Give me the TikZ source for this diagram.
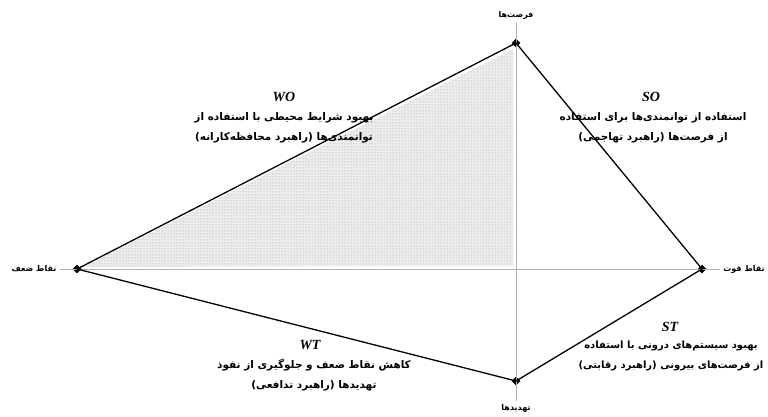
\documentclass[tikz,border=0pt]{standalone}
\usepackage{fontspec}
\usetikzlibrary{shapes,arrows,calc,patterns}
\TeXXeTstate=1
\newfontfamily\fafont[Script=Arabic]{DejaVu Sans}
\newfontfamily\enfont{Liberation Serif}

\begin{document}
\begin{tikzpicture}[x=1pt,y=-1pt,
	corner/.style={diamond,fill=black,inner sep=0pt,minimum size=9pt},
	axislabel/.style={font=\fafont\bfseries\fontsize{8}{9}\selectfont,inner sep=3pt},
	axisline/.style={gray!60,line width=0.6pt},
	side/.style={line width=1.3pt,black},
	tag/.style={font=\enfont\bfseries\itshape\fontsize{14}{14}\selectfont,inner sep=1pt},
	quarter/.style={align=center,font=\fafont\bfseries\fontsize{10.5}{20}\selectfont,inner sep=1pt}]
\useasboundingbox (0,0) rectangle (768,417);

% corners of the diagram
\coordinate (mid) at (516,269);
\node[corner] (opp) at (516,43) {};
\node[corner] (weak) at (77,269) {};
\node[corner] (str) at (702,269) {};
\node[corner] (thr) at (516,381) {};

% axis labels
\node[axislabel] (opplbl) at (516,15) {\beginR فرصت^^^^200cها\endR};
\node[axislabel] (thrlbl) at (516,408) {\beginR تهدیدها\endR};
\node[axislabel] (weaklbl) at (34,269) {\beginR نقاط ضعف\endR};
\node[axislabel] (strlbl) at (744,269) {\beginR نقاط قوت\endR};

% shaded quarter
\fill[preaction={fill=gray!14},pattern=dots,pattern color=gray!80]
	($(weak)+(6,-2)$) -- ($(opp)+(-3,6)$) -- ($(mid)+(-3,-3)$) -- cycle;

% axes
\draw[axisline] (opplbl) -- (thrlbl);
\draw[axisline] (weaklbl) -- (strlbl);

% sides
\draw[side] (weak.center) -- (opp.center) -- (str.center) -- (thr.center) -- cycle;

% strategies
\node[tag] (wotag) at (284,97) {WO};
\node[quarter] (wo) at (284,128) {\beginR بهبود شرایط محیطی با استفاده از\endR\\
	\beginR توانمندی^^^^200cها (راهبرد محافظه^^^^200cکارانه)\endR};

\node[tag] (sotag) at (651,97) {SO};
\node[quarter] (so) at (653,128) {\beginR استفاده از توانمندی^^^^200cها برای استفاده\endR\\
	\beginR از فرصت^^^^200cها (راهبرد تهاجمی)\endR};

\node[tag] (sttag) at (670,327) {ST};
\node[quarter,font=\fafont\bfseries\fontsize{10}{20}\selectfont] (st) at (671,356) {\beginR بهبود سیستم^^^^200cهای درونی با استفاده\endR\\
	\beginR از فرصت^^^^200cهای بیرونی (راهبرد رقابتی)\endR};

\node[tag] (wttag) at (310,345) {WT};
\node[quarter] (wt) at (314,375) {\beginR کاهش نقاط ضعف و جلوگیری از نفوذ\endR\\
	\beginR تهدیدها (راهبرد تدافعی)\endR};
\end{tikzpicture}
\end{document}
